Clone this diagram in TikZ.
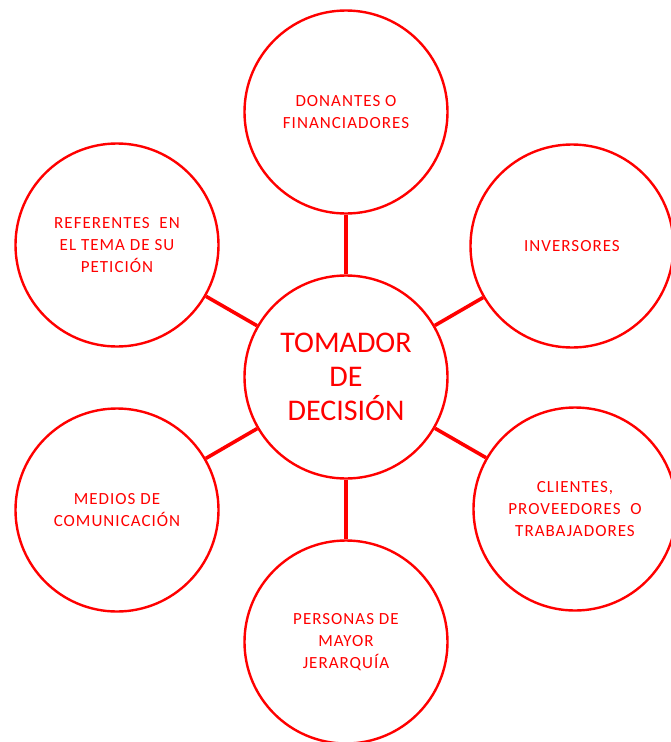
\documentclass[tikz,border=0pt]{standalone}
\usepackage{fontspec}
\setmainfont{Carlito}
\newfontfamily\etiqueta[LetterSpace=6]{Carlito}
\usepackage{tikz}
\usetikzlibrary{positioning}

\tikzset{
  actor/.style={circle, draw=red, line width=2.4pt, minimum size=203pt, inner sep=0pt,
    text=red, align=center, font=\etiqueta\fontsize{17}{22}\selectfont},
  enlace/.style={draw=red, line width=3.6pt}
}

\begin{document}
\begin{tikzpicture}[x=1pt, y=-1pt]
  \useasboundingbox (0,0) rectangle (670,742);

  % Nodo central
  \node[actor, font=\fontsize{30}{34}\selectfont] (tomador) at (346,377) {TOMADOR\\DE\\DECISIÓN};

  % Actores alrededor
  \node[actor] (donantes) at (346,112) {DONANTES O\\FINANCIADORES};
  \node[actor] (inversores) at (572,246) {INVERSORES};
  \node[actor] (clientes) at (575,509) {CLIENTES,\\PROVEEDORES\ \ O\\TRABAJADORES};
  \node[actor] (personas) at (346,642) {PERSONAS DE\\MAYOR\\JERARQUÍA};
  \node[actor] (medios) at (117,510) {MEDIOS DE\\COMUNICACIÓN};
  \node[actor] (referentes) at (117,245) {REFERENTES\ \ EN\\EL TEMA DE SU\\PETICIÓN};

  % Conexiones
  \foreach \n in {donantes, inversores, clientes, personas, medios, referentes}
    \draw[enlace] (tomador) -- (\n);
\end{tikzpicture}
\end{document}
